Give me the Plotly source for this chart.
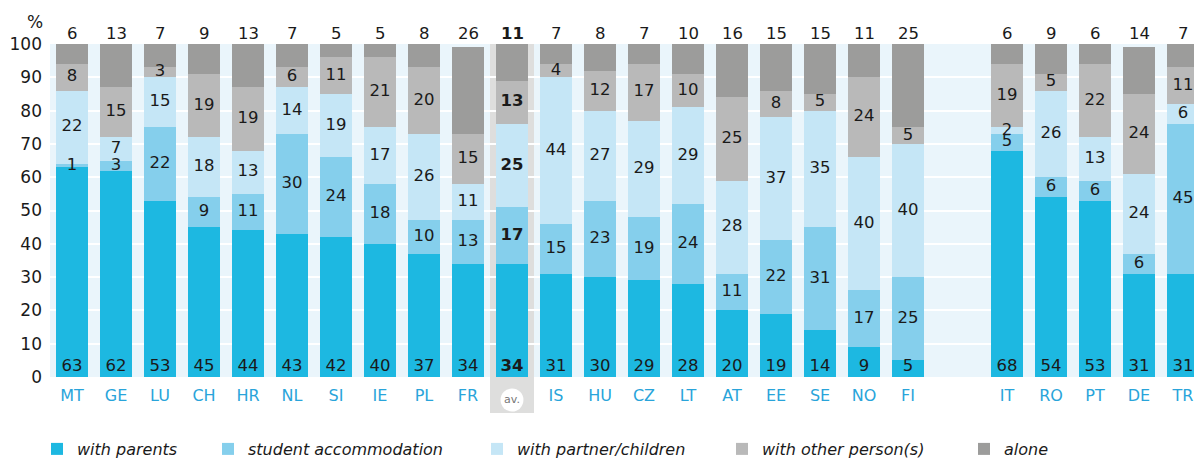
import plotly.graph_objects as go

# Countries (av. = average of all countries); second block shown separately on the right
countries = ["MT", "GE", "LU", "CH", "HR", "NL", "SI", "IE", "PL", "FR", "av.",
             "IS", "HU", "CZ", "LT", "AT", "EE", "SE", "NO", "FI",
             "IT", "RO", "PT", "DE", "TR"]

with_parents = [63, 62, 53, 45, 44, 43, 42, 40, 37, 34, 34, 31, 30, 29, 28, 20, 19, 14, 9, 5,
                68, 54, 53, 31, 31]
student_accommodation = [1, 3, 22, 9, 11, 30, 24, 18, 10, 13, 17, 15, 23, 19, 24, 11, 22, 31, 17, 25,
                         5, 6, 6, 6, 45]
with_partner_children = [22, 7, 15, 18, 13, 14, 19, 17, 26, 11, 25, 44, 27, 29, 29, 28, 37, 35, 40, 40,
                         2, 26, 13, 24, 6]
with_other_persons = [8, 15, 3, 19, 19, 6, 11, 21, 20, 15, 13, 4, 12, 17, 10, 25, 8, 5, 24, 5,
                      19, 5, 22, 24, 11]
alone = [6, 13, 7, 9, 13, 7, 5, 5, 8, 26, 11, 7, 8, 7, 10, 16, 15, 15, 11, 25,
         6, 9, 6, 14, 7]

y_ticks = [0, 10, 20, 30, 40, 50, 60, 70, 80, 90, 100]

series = [
    ("with parents", with_parents, "#1db8e1"),
    ("student accommodation", student_accommodation, "#85cfec"),
    ("with partner/children", with_partner_children, "#c5e6f6"),
    ("with other person(s)", with_other_persons, "#b9b9b9"),
    ("alone", alone, "#9c9c9b"),
]

# pixel where each legend entry's text begins
legend_text_px = [75, 246, 515, 760, 1002]

# x positions: first block 0..19, gap, second block
xpos = list(range(20)) + [21.25 + i for i in range(5)]
AV = countries.index("av.")

FONT = "DejaVu Sans"
LABEL_SIZE = 16.5
W, H = 1194, 460
ML, MT_, MB = 50, 44, 83
PLOT_W, PLOT_H = W - ML, H - MT_ - MB

fig = go.Figure()

legend_names = ["legend"] + [f"legend{k}" for k in range(2, 6)]
for (name, vals, color), lg in zip(series, legend_names):
    fig.add_trace(go.Bar(
        x=xpos, y=vals, name=name, marker=dict(color=color, line=dict(width=0)),
        width=0.73, hoverinfo="skip", legend=lg,
    ))


def fmt(v, i):
    return f"<b>{v}</b>" if i == AV else str(v)


# segment labels: middle of each inner segment, "with parents" at the foot of the bar
lab_x, lab_y, lab_t = [], [], []
for i in range(len(countries)):
    base = with_parents[i]
    for vals in (student_accommodation, with_partner_children, with_other_persons):
        v = vals[i]
        lab_x.append(xpos[i])
        lab_y.append(base + v / 2)
        lab_t.append(fmt(v, i))
        base += v
    lab_x.append(xpos[i])
    lab_y.append(3)
    lab_t.append(fmt(with_parents[i], i))

fig.add_trace(go.Scatter(
    x=lab_x, y=lab_y, text=lab_t, mode="text", showlegend=False, hoverinfo="skip",
    textfont=dict(family=FONT, size=LABEL_SIZE, color="#1a1a1a"), cliponaxis=False,
))

# "alone" values printed above each bar (y axis spans 0..100, so paper = value / 100)
annotations = [
    dict(text=fmt(alone[i], i), x=xpos[i], y=103.3 / 100, xref="x", yref="paper",
         xanchor="center", yanchor="middle", showarrow=False,
         font=dict(family=FONT, size=LABEL_SIZE, color="#1a1a1a"))
    for i in range(len(countries))
]

tickvals = [x for i, x in enumerate(xpos) if i != AV]
ticktext = [c for i, c in enumerate(countries) if i != AV]

av_cy = -23 / PLOT_H
shapes = [
    # grey band behind the average column
    dict(type="rect", xref="x", yref="paper", x0=AV - 0.5, x1=AV + 0.5, y0=-36 / PLOT_H, y1=1,
         fillcolor="#dededd", line=dict(width=0), layer="below"),
    dict(type="circle", xref="x", yref="paper", x0=AV - 0.26, x1=AV + 0.26,
         y0=av_cy - 11.5 / PLOT_H, y1=av_cy + 11.5 / PLOT_H, fillcolor="white",
         line=dict(width=0), layer="above"),
]

annotations += [
    dict(text="av.", x=AV, y=av_cy, xref="x", yref="paper", xanchor="center",
         yanchor="middle", showarrow=False,
         font=dict(family=FONT, size=11, color="#777777")),
    dict(text="%", x=(35 - ML) / PLOT_W, y=(H - MB - 22) / PLOT_H, xref="paper", yref="paper",
         xanchor="center", yanchor="middle", showarrow=False,
         font=dict(family=FONT, size=17, color="#1a1a1a")),
]

layout_legends = {}
for lg, px in zip(legend_names, legend_text_px):
    layout_legends[lg] = dict(
        orientation="h", x=(px - 38 - ML) / PLOT_W, xanchor="left",
        y=1 - 449 / H, yref="container", yanchor="middle",
        font=dict(family=FONT, size=16, color="#1a1a1a", style="italic"),
        bgcolor="rgba(0,0,0,0)",
    )

fig.update_layout(
    width=W, height=H,
    margin=dict(l=ML, r=0, t=MT_, b=MB, autoexpand=False),
    barmode="stack", bargap=0,
    plot_bgcolor="#eaf5fb", paper_bgcolor="white",
    font=dict(family=FONT, size=17, color="#1a1a1a"),
    xaxis=dict(range=[-0.5, 25.5], tickvals=tickvals, ticktext=ticktext, showgrid=False,
               zeroline=False, ticks="", tickfont=dict(family=FONT, size=16, color="#29a4da"),
               ticklabelstandoff=7),
    yaxis=dict(range=[0, 100], tickvals=y_ticks, showgrid=True, gridcolor="white", gridwidth=2,
               zeroline=False, ticks="", tickfont=dict(family=FONT, size=17, color="#1a1a1a"),
               ticklabelstandoff=7),
    shapes=shapes,
    annotations=annotations,
    showlegend=True,
    **layout_legends,
)

fig.write_html("out.html")
